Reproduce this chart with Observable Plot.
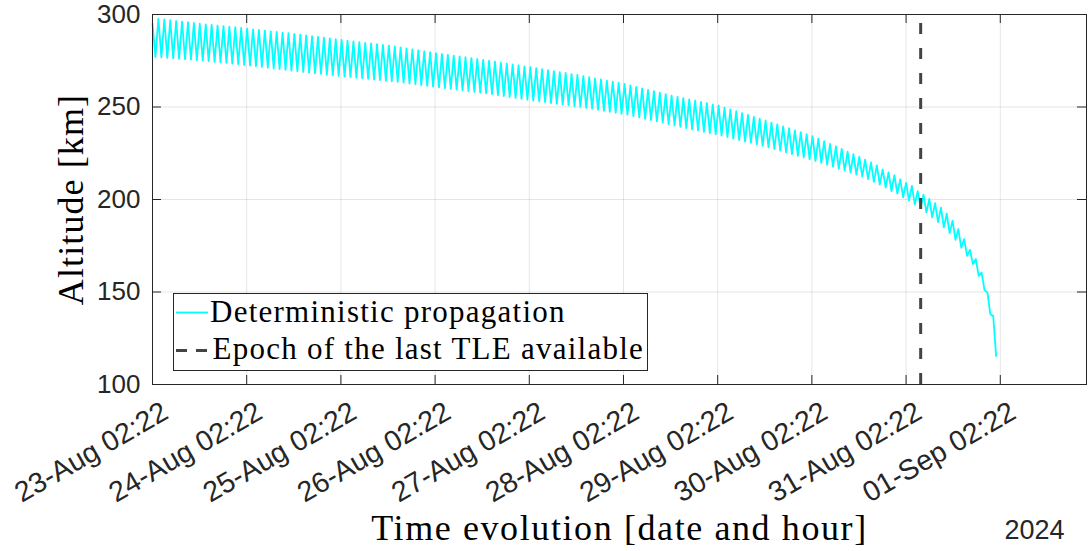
<!DOCTYPE html>
<html>
<head>
<meta charset="utf-8">
<script src="https://cdn.jsdelivr.net/npm/d3@7"></script>
<script src="https://cdn.jsdelivr.net/npm/@observablehq/plot@0.6"></script>
<style>
  body { margin: 0; background: #fff; }
  #chart { width: 1089px; height: 551px; }
</style>
</head>
<body>
<div id="chart"></div>
<script>
// Time frame of the propagation (UTC)
const epochStart = "2024-08-23T02:22:00Z";
const axisEnd = "2024-09-02T00:20:00Z";
const lastTleEpoch = "2024-08-31T06:05:00Z";

// Orbital period for each day of the propagation [min]
const periodMinByDay = [90.4, 90.3, 90.2, 90.1, 90.0, 89.9, 89.7, 89.4, 88.8];

// Altitude at the top of each orbit [km]
const apogeeKm = [
  295.0, 297.7, 297.3, 296.9, 296.5, 296.2, 295.8, 295.4, 295.0,
  294.7, 294.4, 294.0, 293.7, 293.4, 293.1, 292.7, 292.4,
  292.0, 291.7, 291.3, 290.9, 290.6, 290.2, 289.9, 289.5,
  289.1, 288.7, 288.3, 287.9, 287.5, 287.1, 286.7, 286.3,
  285.9, 285.5, 285.1, 284.7, 284.4, 284.0, 283.6, 283.2,
  282.7, 282.2, 281.7, 281.2, 280.6, 280.1, 279.6, 279.1,
  278.7, 278.2, 277.8, 277.3, 276.9, 276.4, 276.0, 275.5,
  275.0, 274.5, 274.0, 273.5, 273.0, 272.5, 272.0, 271.5,
  271.0, 270.5, 269.9, 269.4, 268.9, 268.4, 267.8, 267.3,
  266.7, 266.1, 265.5, 264.9, 264.3, 263.7, 263.1, 262.5,
  261.7, 260.9, 260.1, 259.3, 258.6, 257.8, 257.0, 256.2,
  255.5, 254.8, 254.1, 253.5, 252.8, 252.1, 251.4, 250.7,
  249.7, 248.7, 247.7, 246.7, 245.7, 244.7, 243.7, 242.7,
  241.6, 240.6, 239.5, 238.5, 237.4, 236.4, 235.3, 234.3,
  232.9, 231.5, 230.1, 228.7, 227.3, 225.9, 224.5, 223.1,
  221.5, 220.0, 218.4, 216.2, 214.6, 213.1, 210.9, 209.0,
  207.4, 204.5, 202.6, 200.3, 198.0, 195.6, 192.3, 188.6,
  184.0, 178.6, 172.8, 167.8, 160.5, 149.7, 137.1
];

// Altitude at the bottom of each orbit [km]
const perigeeKm = [
  277.0, 276.8, 276.5, 276.3, 276.0, 275.8, 275.6, 275.3, 275.1,
  274.8, 274.4, 274.1, 273.8, 273.4, 273.1, 272.7, 272.4,
  272.0, 271.6, 271.2, 270.8, 270.5, 270.1, 269.7, 269.3,
  268.9, 268.6, 268.2, 267.9, 267.5, 267.1, 266.8, 266.4,
  266.1, 265.8, 265.5, 265.2, 264.8, 264.5, 264.2, 263.9,
  263.5, 263.1, 262.7, 262.3, 261.8, 261.4, 261.0, 260.6,
  260.2, 259.8, 259.4, 259.0, 258.6, 258.2, 257.8, 257.4,
  256.9, 256.4, 255.9, 255.4, 254.9, 254.4, 253.9, 253.4,
  253.0, 252.6, 252.1, 251.7, 251.3, 250.9, 250.4, 250.0,
  249.5, 249.0, 248.4, 247.9, 247.4, 246.9, 246.3, 245.8,
  245.1, 244.4, 243.6, 242.9, 242.2, 241.5, 240.7, 240.0,
  239.3, 238.6, 237.9, 237.3, 236.6, 235.9, 235.2, 234.5,
  233.7, 232.9, 232.1, 231.3, 230.6, 229.8, 229.0, 228.2,
  227.3, 226.4, 225.4, 224.5, 223.6, 222.7, 221.7, 220.8,
  219.8, 218.7, 217.7, 216.6, 215.6, 214.6, 213.5, 212.5,
  211.0, 209.5, 208.0, 206.5, 204.6, 203.2, 201.2, 199.4,
  197.2, 195.8, 193.0, 190.4, 187.8, 185.0, 181.8, 178.2,
  173.9, 169.6, 165.1, 158.7, 151.0, 138.0, 115.4
];

// Axis ticks and labels
const altitudeDomain = [100, 300];
const altitudeTicks = [100, 150, 200, 250, 300];
const dateTicks = [
  "2024-08-23T02:22:00Z", "2024-08-24T02:22:00Z", "2024-08-25T02:22:00Z",
  "2024-08-26T02:22:00Z", "2024-08-27T02:22:00Z", "2024-08-28T02:22:00Z",
  "2024-08-29T02:22:00Z", "2024-08-30T02:22:00Z", "2024-08-31T02:22:00Z",
  "2024-09-01T02:22:00Z"
];
const dateTickLabels = [
  "23-Aug 02:22", "24-Aug 02:22", "25-Aug 02:22", "26-Aug 02:22", "27-Aug 02:22",
  "28-Aug 02:22", "29-Aug 02:22", "30-Aug 02:22", "31-Aug 02:22", "01-Sep 02:22"
];
const yearLabel = "2024";
const xLabel = "Time evolution [date and hour]";
const yLabel = "Altitude [km]";
const seriesNames = ["Deterministic propagation", "Epoch of the last TLE available"];

// Build the altitude trace: one vertex at each apogee and perigee
const t0 = new Date(epochStart).getTime();
const trace = [];
let tMin = 0;
apogeeKm.forEach((a, k) => {
  const period = periodMinByDay[Math.min(Math.floor(tMin / 1440), periodMinByDay.length - 1)];
  trace.push({date: new Date(t0 + tMin * 60000), km: a});
  trace.push({date: new Date(t0 + (tMin + period / 2) * 60000), km: perigeeKm[k]});
  tMin += period;
});

const ticks = dateTicks.map((d, i) => ({date: new Date(d), label: dateTickLabels[i]}));
const tickDates = ticks.map(d => d.date);

const W = 1089, H = 551;
const mL = 152, mR = 3, mT = 14, mB = 167;
const frameW = W - mL - mR, frameH = H - mT - mB;
const tickLen = 9;
const axisColor = "#262626";
const serif = "Liberation Serif, Times New Roman, serif";

const svg = Plot.plot({
  width: W,
  height: H,
  marginLeft: mL,
  marginRight: mR,
  marginTop: mT,
  marginBottom: mB,
  style: {fontFamily: "Liberation Sans, Arial, sans-serif", background: "#fff"},
  x: {type: "utc", domain: [new Date(epochStart), new Date(axisEnd)], axis: null},
  y: {domain: altitudeDomain, axis: null},
  marks: [
    // grid
    Plot.gridX(tickDates, {stroke: "#000", strokeOpacity: 0.1, strokeWidth: 1}),
    Plot.gridY(altitudeTicks, {stroke: "#000", strokeOpacity: 0.1, strokeWidth: 1}),
    // propagated altitude
    Plot.line(trace, {x: "date", y: "km", stroke: "#00ffff", strokeWidth: 1.8}),
    // last TLE epoch
    Plot.ruleX([new Date(lastTleEpoch)], {
      x: d => d, y1: altitudeDomain[0], y2: altitudeDomain[1],
      stroke: "#444", strokeWidth: 3, strokeDasharray: "11,14"
    }),
    // box and inward ticks on all four sides
    Plot.frame({stroke: axisColor, strokeWidth: 1}),
    Plot.tickX(tickDates, {x: d => d, insetTop: frameH - tickLen, stroke: axisColor}),
    Plot.tickX(tickDates, {x: d => d, insetBottom: frameH - tickLen, stroke: axisColor}),
    Plot.tickY(altitudeTicks, {y: d => d, insetRight: frameW - tickLen, stroke: axisColor}),
    Plot.tickY(altitudeTicks, {y: d => d, insetLeft: frameW - tickLen, stroke: axisColor}),
    // y tick labels
    Plot.text(altitudeTicks, {
      y: d => d, frameAnchor: "left", textAnchor: "end", lineAnchor: "middle",
      dx: -12, fontSize: 26, fill: axisColor
    }),
    // rotated date tick labels
    Plot.text(ticks, {
      x: "date", text: "label", frameAnchor: "bottom", rotate: -30,
      textAnchor: "end", lineAnchor: "middle", dx: 13, dy: 25,
      fontSize: 28.5, fill: axisColor
    }),
    // year stamp
    Plot.text([yearLabel], {
      frameAnchor: "bottom-right", textAnchor: "end", lineAnchor: "bottom",
      dx: -22, dy: 154, fontSize: 27, fill: axisColor
    }),
    // axis titles
    Plot.text([xLabel], {
      frameAnchor: "bottom", textAnchor: "middle", lineAnchor: "bottom",
      dy: 155, fontSize: 36, fontFamily: serif, fill: "#000"
    }),
    Plot.text([yLabel], {
      frameAnchor: "left", textAnchor: "middle", lineAnchor: "bottom", rotate: -90,
      dx: -70, fontSize: 36, fontFamily: serif, fill: "#000"
    })
  ]
});

const root = d3.select(svg);
root.selectAll("text")
  .filter(function () { return this.textContent === xLabel; })
  .attr("font-family", serif)
  .attr("letter-spacing", "1.6px");
root.selectAll("text")
  .filter(function () { return this.textContent === yLabel; })
  .attr("font-family", serif)
  .attr("letter-spacing", "1.1px");

// legend box in the lower-left corner of the axes
const lg = root.append("g")
  .attr("font-family", serif)
  .attr("font-size", 31)
  .attr("letter-spacing", "1.25px")
  .attr("text-anchor", "start");
lg.append("rect").attr("x", 173.5).attr("y", 293.5).attr("width", 474).attr("height", 77)
  .attr("fill", "#fff").attr("stroke", axisColor).attr("stroke-width", 1);
lg.append("line").attr("x1", 176).attr("x2", 208).attr("y1", 312.5).attr("y2", 312.5)
  .attr("stroke", "#00ffff").attr("stroke-width", 1.8);
lg.append("text").attr("x", 210).attr("y", 321.5).attr("fill", "#000").attr("text-anchor", "start")
  .text(seriesNames[0]);
lg.append("line").attr("x1", 176).attr("x2", 208).attr("y1", 350.5).attr("y2", 350.5)
  .attr("stroke", "#444").attr("stroke-width", 3).attr("stroke-dasharray", "11,9");
lg.append("text").attr("x", 212.5).attr("y", 358.5).attr("fill", "#000").attr("text-anchor", "start")
  .text(seriesNames[1]);

document.getElementById("chart").appendChild(svg);
</script>
</body>
</html>
